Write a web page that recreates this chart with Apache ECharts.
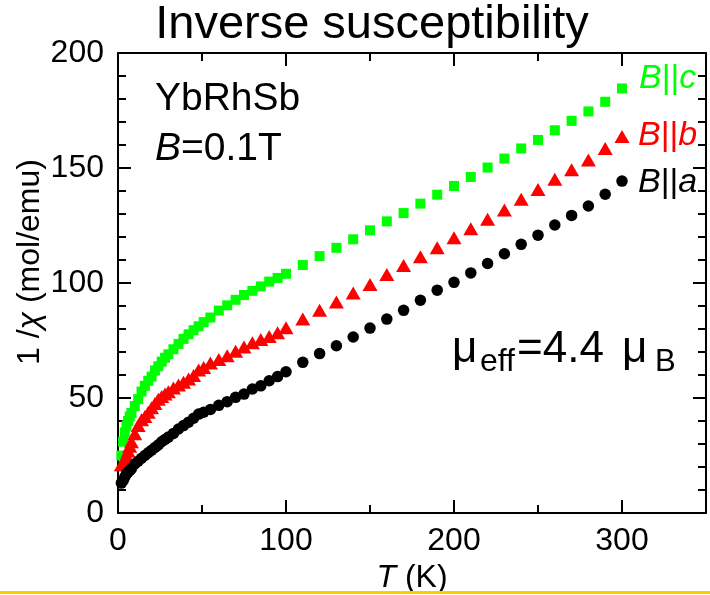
<!DOCTYPE html>
<html>
<head>
<meta charset="utf-8">
<script src="https://cdn.jsdelivr.net/npm/echarts@6/dist/echarts.min.js"></script>
<style>
html,body{margin:0;padding:0;background:#fff;}
#chart{width:710px;height:595px;}
</style>
</head>
<body>
<div id="chart"></div>
<script>
const temperature = [2,3,4,5,6,7,8,10,12,14,16,18,20,22,24,26,28,30,33,36,39,42,45,48,51,55,60,65,70,75,80,85,90,95,100,110,120,130,140,150,160,170,180,190,200,210,220,230,240,250,260,270,280,290,300];
const invChiC = [25,31,35,38,40,42,43.5,46.5,49.5,52.8,55.3,57.5,59.3,62,63.8,65.8,67.5,69,71.2,73.5,75.7,77.7,79.5,81.2,83,85,88,90.3,92.7,94.8,96.6,98.5,100.6,102.2,104,107.8,111.7,115.3,119,122.9,126.8,130.4,134.5,138.4,142.2,146.1,150.2,154.1,158.5,162.2,166.4,170.5,174.6,178.8,184.6];
const invChiB = [21,21,22.5,25,27,29,31,34.5,38,40.5,42,43.8,45.8,47.6,49.5,50.6,51.7,52.7,54.4,55.7,56.8,58.3,59.8,62.2,63.3,65.2,66.7,68.4,70.3,72.2,74,75.4,76.7,78.4,80.5,84.3,88.1,91.7,95.7,99.3,103.7,107.6,111.4,115.3,119.7,123.6,127.7,131.7,136.4,140.7,145.1,149.2,153.5,158.5,163.7];
const invChiA = [13,14,15.5,17,17.8,18.5,19.3,21.3,22.5,23.8,25,26.2,27.3,28.5,29.6,31,32,33,34.6,36.5,38,39.5,41.2,43,43.8,45,46.8,48.4,50.3,51.7,53.9,55.3,57.5,59.3,61.4,65.5,69.3,72.7,76.5,80.4,84.3,88.1,92.5,96.9,100.3,104.4,108.5,112.7,116.8,120.8,125.2,129.4,133.5,138.6,144.3];
const xTicks = [0,100,200,300];
const yTicks = [0,50,100,150,200];

const FONT = "'Liberation Sans', Arial, sans-serif";
const pairs = (vals) => temperature.map((t, i) => [t, vals[i]]);

const chart = echarts.init(document.getElementById('chart'), null, {renderer: 'canvas'});

const axisCommon = {
  axisLine: {show: true, onZero: false, lineStyle: {color: '#000', width: 2}},
  axisTick: {show: true, inside: true, length: 13, lineStyle: {color: '#000', width: 2}},
  minorTick: {show: true, length: 8, lineStyle: {color: '#000', width: 2}},
  splitLine: {show: false}
};

function txt(x, y, text, size, color, extra) {
  return {type: 'text', x: x, y: y, style: Object.assign({text: text, fontSize: size, fontFamily: FONT, fill: color, align: 'left', verticalAlign: 'middle'}, extra || {})};
}
function richLabel(x, y, text, size, color, align) {
  return txt(x, y, text, size, color, {align: align || 'left', rich: {
    i: {fontSize: size, fontFamily: FONT, fontStyle: 'italic', fill: color},
    n: {fontSize: size, fontFamily: FONT, fill: color}}});
}

chart.setOption({
  animation: false,
  backgroundColor: '#fff',
  grid: {left: 118, right: 4, top: 53, bottom: 82, containLabel: false},
  xAxis: [
    Object.assign({}, axisCommon, {
      type: 'value', position: 'bottom', min: 0, max: 350, interval: 100,
      minorTick: Object.assign({}, axisCommon.minorTick, {splitNumber: 2}),
      axisLabel: {show: true, fontSize: 32, color: '#000', fontFamily: FONT, margin: 12, showMaxLabel: false,
        formatter: v => xTicks.includes(v) ? String(v) : ''}
    }),
    Object.assign({}, axisCommon, {
      type: 'value', position: 'top', min: 0, max: 350, interval: 100,
      minorTick: Object.assign({}, axisCommon.minorTick, {splitNumber: 2}),
      axisLabel: {show: false}
    })
  ],
  yAxis: [
    Object.assign({}, axisCommon, {
      type: 'value', position: 'left', min: 0, max: 200, interval: 50,
      minorTick: Object.assign({}, axisCommon.minorTick, {splitNumber: 5}),
      axisLabel: {show: true, fontSize: 32, color: '#000', fontFamily: FONT, margin: 14,
        formatter: v => yTicks.includes(v) ? String(v) : ''}
    }),
    Object.assign({}, axisCommon, {
      type: 'value', position: 'right', min: 0, max: 200, interval: 50,
      minorTick: Object.assign({}, axisCommon.minorTick, {splitNumber: 5}),
      axisLabel: {show: false}
    })
  ],
  series: [
    {type: 'scatter', name: 'B||c', symbol: 'rect', symbolSize: 10,
      itemStyle: {color: '#00ff00', opacity: 1}, data: pairs(invChiC)},
    {type: 'scatter', name: 'B||b', symbol: 'triangle', symbolSize: [15, 13],
      itemStyle: {color: '#ff0000', opacity: 1}, data: pairs(invChiB)},
    {type: 'scatter', name: 'B||a', symbol: 'circle', symbolSize: 11.5,
      itemStyle: {color: '#000000', opacity: 1}, data: pairs(invChiA)}
  ],
  graphic: [
    txt(372, 25, 'Inverse susceptibility', 47, '#000', {align: 'center'}),
    txt(155, 99, 'YbRhSb', 39, '#000'),
    richLabel(155, 149, '{i|B}{n|=0.1T}', 39, '#000'),
    richLabel(639, 79, '{i|B}{n|||}{i|c}', 34, '#00ff00'),
    richLabel(638, 136, '{i|B}{n|||}{i|b}', 34, '#ff0000'),
    richLabel(638, 183, '{i|B}{n|||}{i|a}', 34, '#000'),
    txt(452, 350, 'μ', 44, '#000'),
    txt(480, 362, 'eff', 32, '#000'),
    txt(517, 350, '=4.4', 44, '#000'),
    txt(622, 350, 'μ', 44, '#000'),
    txt(655, 362, 'B', 31, '#000'),
    richLabel(412, 578, '{i|T}{n| (K)}', 32, '#000', 'center'),
    Object.assign(richLabel(30, 262, '{n|1 /}{i|χ}{n| (mol/emu)}', 32, '#000', 'center'), {rotation: Math.PI / 2}),
    {type: 'rect', shape: {x: 0, y: 591, width: 710, height: 3}, style: {fill: '#ffcc00'}}
  ]
});
</script>
</body>
</html>
